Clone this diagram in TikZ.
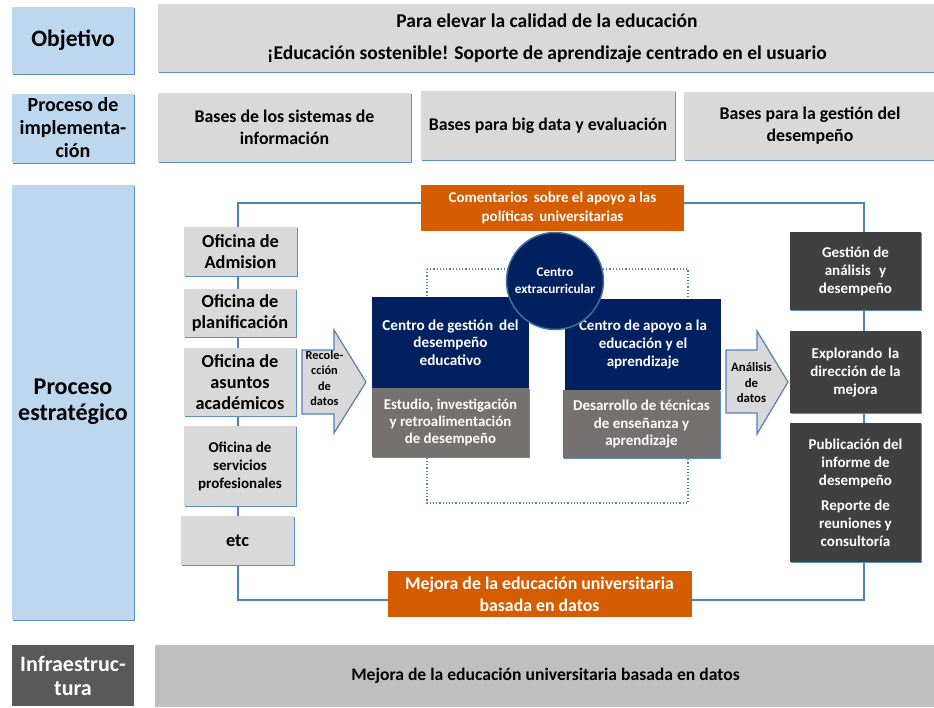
\documentclass[tikz,border=0pt]{standalone}
\usepackage{fontspec}
\setmainfont{Carlito}
\usetikzlibrary{shadows}
\definecolor{lblue}{HTML}{BDD7EE}
\definecolor{lgray}{HTML}{D9D9D9}
\definecolor{mgray}{HTML}{BFBFBF}
\definecolor{dgray}{HTML}{595959}
\definecolor{navy}{HTML}{002060}
\definecolor{cgray}{HTML}{767171}
\definecolor{rdark}{HTML}{404040}
\definecolor{orng}{HTML}{D65C00}
\definecolor{edgeblue}{HTML}{5B8FCB}
\definecolor{connblue}{HTML}{4F81BD}
\definecolor{circedge}{HTML}{41719C}
\newcommand{\fsz}[2]{\fontsize{#1}{#2}\selectfont}
\begin{document}
\begin{tikzpicture}[x=1pt,y=-1pt,
  base/.style={inner sep=1pt, outer sep=0pt, align=center},
  shad/.style={drop shadow={shadow xshift=1.3pt,shadow yshift=-1.3pt,fill=edgeblue,opacity=1}},
  lbbox/.style={base, fill=lblue, shad, text=black},
  lgbox/.style={base, fill=lgray, shad, text=black},
  navybox/.style={base, fill=navy, text=white},
  cgbox/.style={base, fill=cgray, shad, text=white},
  dkbox/.style={base, fill=rdark, shad, text=white},
  orbox/.style={base, fill=orng, text=white},
  conn/.style={draw=connblue, line width=1.4pt},
  arrowsty/.style={fill=lgray, draw=connblue, line width=1.2pt},
  txt/.style={base, text=black}
]
\useasboundingbox (0,0) rectangle (934,707);

% ---- Objetivo row
\node[lbbox, minimum width=122, minimum height=67, font=\bfseries\fsz{23.5}{26}] (obj) at (73,40) {Objetivo};
\node[lgbox, minimum width=778, minimum height=68, font=\bfseries\fsz{19.5}{32}] (objtxt) at (547,38)
  {Para elevar la calidad de la educación\\¡Educación sostenible! Soporte de aprendizaje centrado en el usuario};

% ---- Implementation row
\node[lbbox, minimum width=122, minimum height=69, font=\bfseries\fsz{20}{23}] (impl) at (73,128)
  {Proceso de\\implementa-\\ción};
\node[lgbox, minimum width=253, minimum height=69, font=\bfseries\fsz{17.8}{22}] (b1) at (284.5,127) {Bases de los sistemas de\\información};
\node[lgbox, minimum width=254, minimum height=69, font=\bfseries\fsz{17.8}{22}] (b2) at (548,125.5) {Bases para big data y evaluación};
\node[lgbox, minimum width=252, minimum height=68, font=\bfseries\fsz{17.8}{22}] (b3) at (810,126) {Bases para la gestión del\\desempeño};

% ---- Strategic row
\node[lbbox, minimum width=122, minimum height=435, font=\bfseries\fsz{24}{26}] (estr) at (73,402) {Proceso\\estratégico};

% loop connector
\coordinate (lt) at (238,203);
\coordinate (rt) at (864,203);
\coordinate (rb) at (864,600);
\coordinate (lb) at (238,600);
\draw[conn] (lt) -- (rt) -- (rb) -- (lb) -- cycle;

% dotted frame
\coordinate (dtl) at (427,269);
\coordinate (dbr) at (688,503);
\draw[draw=connblue, dotted, line width=1.2pt] (dtl) rectangle (dbr);

% left column
\node[lgbox, minimum width=113, minimum height=49, font=\bfseries\fsz{18.3}{20.5}] (of1) at (240.5,251.5) {Oficina de\\Admision};
\node[lgbox, minimum width=112, minimum height=48, font=\bfseries\fsz{18.3}{20.5}] (of2) at (240,313) {Oficina de\\planificación};
\node[lgbox, minimum width=112, minimum height=68, font=\bfseries\fsz{18.3}{21}] (of3) at (240,382) {Oficina de\\asuntos\\académicos};
\node[lgbox, minimum width=112, minimum height=80, font=\bfseries\fsz{15}{18}] (of4) at (240,466) {Oficina de\\servicios\\profesionales};
\node[lgbox, minimum width=113, minimum height=49, font=\bfseries\fsz{18.3}{21}] (etc) at (237.5,540.5) {etc};

% orange boxes
\node[orbox, minimum width=263, minimum height=46, font=\bfseries\fsz{15}{19}] (topor) at (552.5,208) {Comentarios\, sobre el apoyo a las\\políticas\, universitarias};
\node[orbox, minimum width=304, minimum height=46, font=\bfseries\fsz{17.8}{22}] (botor) at (539.5,594) {Mejora de la educación universitaria\\basada en datos};

% arrows
\path[arrowsty] (302,350) -- (334,350) -- (334,330) -- (366,382) -- (334,433) -- (334,414) -- (302,414) -- cycle;
\node[txt, font=\bfseries\fsz{12.3}{15.5}] (rec) at (324.5,378) {Recole-\\cción\\de\\datos};
\path[arrowsty] (726,350) -- (757,350) -- (757,331) -- (788,382) -- (757,434) -- (757,413) -- (726,413) -- cycle;
\node[txt, font=\bfseries\fsz{12.8}{15.5}] (ana) at (751.5,383) {Análisis\\de\\datos};

% center boxes
\node[navybox, minimum width=157, minimum height=91, font=\bfseries\fsz{15.2}{17.5}] (ln) at (450.5,342.5) {Centro de gestión\, del\\desempeño\\educativo};
\node[cgbox, minimum width=157, minimum height=69, font=\bfseries\fsz{14.9}{17}] (lg) at (450.5,422.5) {Estudio, investigación\\y retroalimentación\\de desempeño};
\node[navybox, minimum width=156, minimum height=91, font=\bfseries\fsz{15}{18}] (rn) at (643,344.5) {Centro de apoyo a la\\educación y el\\aprendizaje};
\node[cgbox, minimum width=157, minimum height=68, font=\bfseries\fsz{15}{17.5}] (rg) at (641.5,424) {Desarrollo de técnicas\\de enseñanza y\\aprendizaje};
\node[circle, fill=navy, draw=circedge, line width=1.5pt, minimum size=97, inner sep=0pt, align=center, text=white, font=\bfseries\fsz{13.2}{17}] (circ) at (555,281) {Centro\\extracurricular};

% right column
\node[dkbox, minimum width=131, minimum height=78, font=\bfseries\fsz{15}{18}] (r1) at (855.5,271) {Gestión de\\análisis\,\, y\\desempeño};
\node[dkbox, minimum width=131, minimum height=82, font=\bfseries\fsz{15}{18}] (r2) at (855.5,372) {Explorando\, la\\dirección de la\\mejora};
\node[dkbox, minimum width=131, minimum height=139, font=\bfseries\fsz{15}{18}] (r3) at (855.5,492.5) {Publicación del\\informe de\\desempeño\\[7pt]Reporte de\\reuniones y\\consultoría};

% ---- Infrastructure row
\node[base, fill=dgray, text=white, minimum width=122, minimum height=61, font=\bfseries\fsz{22}{24}] (infra) at (73,675.5) {Infraestruc-\\tura};
\node[base, fill=mgray, text=black, minimum width=781, minimum height=62, font=\bfseries\fsz{17.6}{20}] (infratxt) at (545.5,676) {Mejora de la educación universitaria basada en datos};
\end{tikzpicture}
\end{document}
